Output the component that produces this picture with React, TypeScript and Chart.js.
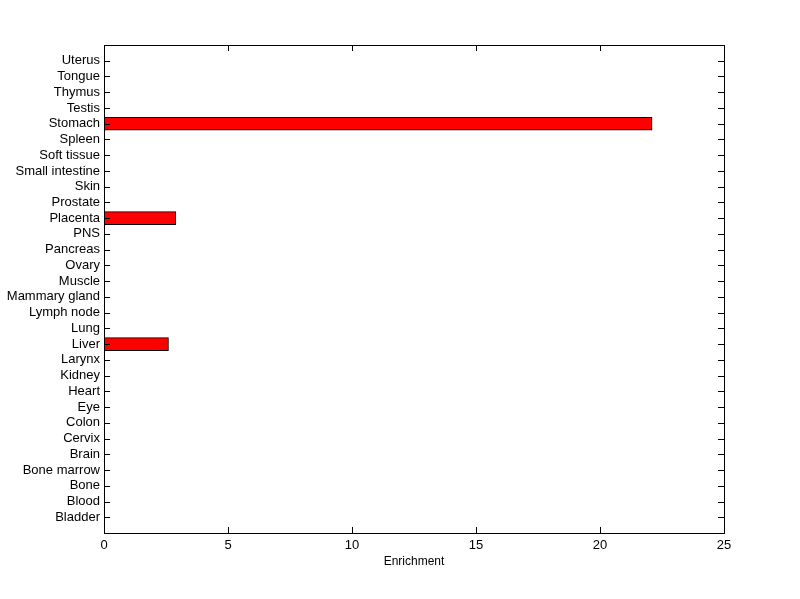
import React, { useEffect, useRef } from "react";
import { Chart, registerables } from "chart.js";

Chart.register(...registerables);

const categories = [
  "Bladder", "Blood", "Bone", "Bone marrow", "Brain", "Cervix", "Colon", "Eye",
  "Heart", "Kidney", "Larynx", "Liver", "Lung", "Lymph node", "Mammary gland",
  "Muscle", "Ovary", "Pancreas", "PNS", "Placenta", "Prostate", "Skin",
  "Small intestine", "Soft tissue", "Spleen", "Stomach", "Testis", "Thymus",
  "Tongue", "Uterus",
];
const enrichment = [
  0, 0, 0, 0, 0, 0, 0, 0, 0, 0, 0, 2.6, 0, 0, 0, 0, 0, 0, 0, 2.89, 0, 0, 0, 0, 0,
  22.1, 0, 0, 0, 0,
];
const xTicks = [0, 5, 10, 15, 20, 25];
const xLabel = "Enrichment";

const FONT = "'Liberation Sans', Arial, sans-serif";

const framePlugin = {
  id: "frameTicks",
  afterDraw(chart: any) {
    const { ctx, chartArea: a, scales } = chart;
    const x = scales.x;
    const y = scales.y;
    ctx.save();
    ctx.strokeStyle = "#000";
    ctx.lineWidth = 1;
    ctx.strokeRect(Math.round(a.left) + 0.5, Math.round(a.top) + 0.5, Math.round(a.right - a.left), Math.round(a.bottom - a.top));
    const len = 6;
    ctx.beginPath();
    for (let i = 1; i <= categories.length; i++) {
      const py = Math.round(y.getPixelForValue(i)) + 0.5;
      ctx.moveTo(a.left, py);
      ctx.lineTo(a.left + len, py);
      ctx.moveTo(a.right, py);
      ctx.lineTo(a.right - len, py);
    }
    for (const v of xTicks) {
      const px = Math.round(x.getPixelForValue(v)) + 0.5;
      ctx.moveTo(px, a.top);
      ctx.lineTo(px, a.top + len);
      ctx.moveTo(px, a.bottom);
      ctx.lineTo(px, a.bottom - len);
    }
    ctx.stroke();
    ctx.restore();
  },
};

export default function App() {
  const ref = useRef<HTMLCanvasElement | null>(null);
  useEffect(() => {
    document.body.style.margin = "0";
    const data = categories
      .map((c, i) => ({ x: enrichment[i], y: i + 1 }))
      .filter((d) => d.x > 0);
    const chart = new Chart(ref.current as HTMLCanvasElement, {
      type: "bar",
      data: {
        datasets: [
          {
            data: data as any,
            backgroundColor: "#ff0000",
            borderColor: "#000000",
            borderWidth: 1,
            borderSkipped: false,
            barThickness: 13,
          } as any,
        ],
      },
      plugins: [framePlugin],
      options: {
        animation: false,
        responsive: false,
        indexAxis: "y",
        layout: { padding: { top: 45, right: 76, left: 0, bottom: 0 } },
        plugins: { legend: { display: false }, tooltip: { enabled: false } },
        scales: {
          x: {
            type: "linear",
            min: 0,
            max: 25,
            afterBuildTicks: (s: any) => {
              s.ticks = xTicks.map((v) => ({ value: v }));
            },
            afterFit: (s: any) => {
              s.height = 66;
            },
            grid: { display: false, drawTicks: false },
            border: { display: false },
            ticks: { color: "#000", font: { family: FONT, size: 13 }, padding: 5 },
            title: {
              display: true,
              text: xLabel,
              color: "#000",
              font: { family: FONT, size: 12 },
              padding: { top: 2, bottom: 30 },
            },
          },
          y: {
            type: "linear",
            min: 0,
            max: 31,
            offset: false,
            afterBuildTicks: (s: any) => {
              s.ticks = categories.map((_, i) => ({ value: i + 1 }));
            },
            afterFit: (s: any) => {
              s.width = 104;
            },
            grid: { display: false, drawTicks: false },
            border: { display: false },
            ticks: {
              color: "#000",
              autoSkip: false,
              font: { family: FONT, size: 13 },
              padding: 4,
              callback: (v: any) => categories[Number(v) - 1] ?? "",
            },
          },
        },
      } as any,
    });
    return () => chart.destroy();
  }, []);
  return (
    <div style={{ width: 800, height: 599, background: "#fff" }}>
      <canvas ref={ref} width={800} height={599} style={{ display: "block" }} />
    </div>
  );
}
